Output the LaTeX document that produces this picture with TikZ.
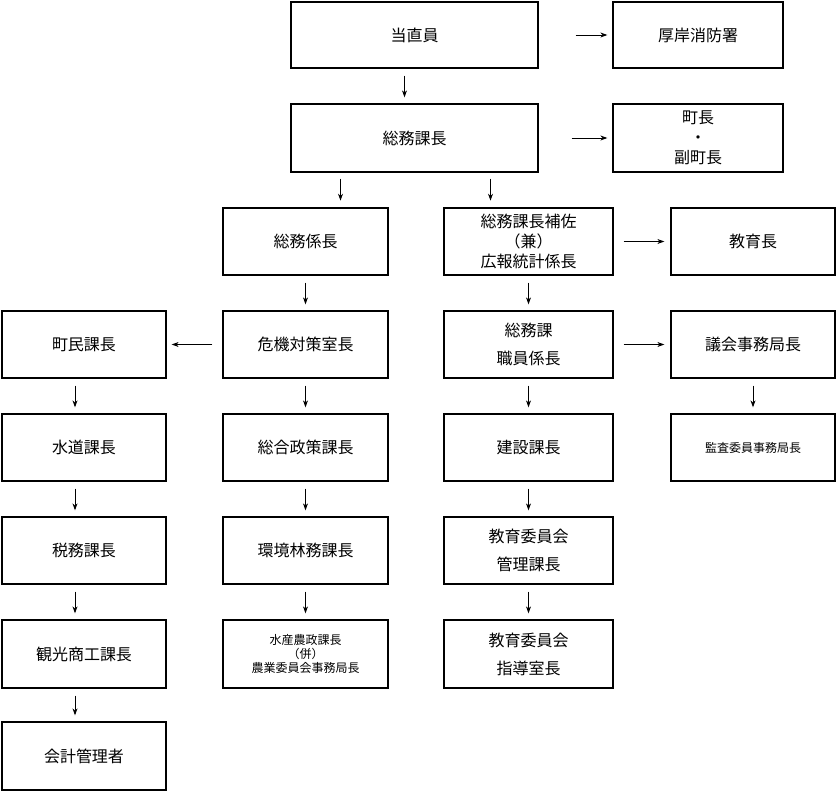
\documentclass[tikz,border=0pt]{standalone}
\usepackage{fontspec}
\setmainfont{Noto Sans CJK JP}
\usetikzlibrary{arrows.meta}
\begin{document}
\begin{tikzpicture}[x=1pt,y=-1pt,
  box/.style={draw,line width=1.3pt,inner sep=0pt,align=center,font=\fontsize{16}{20}\selectfont},
  sbox/.style={box,font=\fontsize{12}{14}\selectfont},
  arr/.style={-{Stealth[length=7pt,width=5pt]},line width=0.9pt}]
\useasboundingbox (0,0) rectangle (836,792);
\newcommand{\bx}[7][box]{\node[#1,minimum width=#5-#3,minimum height=#6-#4] (#2) at ({(#3+#5)/2},{(#4+#6)/2}) {#7};}
\bx{toc}{291}{2}{538}{68}{当直員}
\bx{fire}{613}{2}{783}{68}{厚岸消防署}
\bx{smk}{291}{104}{538}{172}{総務課長}
\bx{mayor}{613}{104}{783}{172}{町長\\・\\副町長}
\bx{smkk}{223}{208}{388}{275}{総務係長}
\bx{hosa}{444}{208}{613}{275}{総務課長補佐\\（兼）\\広報統計係長}
\bx{edu}{671}{208}{835}{275}{教育長}
\bx{chomin}{2}{311}{166}{378}{町民課長}
\bx{kiki}{223}{311}{388}{378}{危機対策室長}
\bx{shokuin}{444}{311}{613}{378}{総務課\\[8pt]職員係長}
\bx{gikai}{671}{311}{835}{378}{議会事務局長}
\bx{suido}{2}{414}{166}{481}{水道課長}
\bx{sogo}{223}{414}{388}{481}{総合政策課長}
\bx{kensetsu}{444}{414}{613}{481}{建設課長}
\bx[sbox]{kansa}{671}{414}{835}{481}{監査委員事務局長}
\bx{zeimu}{2}{517}{166}{584}{税務課長}
\bx{kankyo}{223}{517}{388}{584}{環境林務課長}
\bx{kanri}{444}{517}{613}{584}{教育委員会\\[8pt]管理課長}
\bx{kanko}{2}{620}{166}{688}{観光商工課長}
\bx[sbox]{suisan}{223}{620}{388}{688}{水産農政課長\\（併）\\農業委員会事務局長}
\bx{shido}{444}{620}{613}{688}{教育委員会\\[8pt]指導室長}
\bx{kaikei}{2}{722}{166}{790}{会計管理者}
% vertical arrows
\draw[arr,shorten <=7pt,shorten >=6pt] ([xshift=-10pt]toc.south) -- ([xshift=-10pt]smk.north);
\draw[arr] ([xshift=-74pt]smk.south) ++(0,6) -- ++(0,22);
\draw[arr] ([xshift=76pt]smk.south) ++(0,6) -- ++(0,22);
\foreach \a/\b in {chomin/suido,suido/zeimu,zeimu/kanko,kanko/kaikei}
  \draw[arr,shorten <=7pt,shorten >=6pt] ([xshift=-9pt]\a.south) -- ([xshift=-9pt]\b.north);
\foreach \a/\b in {smkk/kiki,kiki/sogo,sogo/kankyo,kankyo/suisan,hosa/shokuin,shokuin/kensetsu,kensetsu/kanri,kanri/shido,gikai/kansa}
  \draw[arr,shorten <=7pt,shorten >=6pt] ([xshift=-0pt]\a.south) -- ([xshift=0pt]\b.north);
% horizontal arrows
\draw[arr,shorten <=37pt,shorten >=5pt] (toc.east) -- (fire.west);
\draw[arr,shorten <=33pt,shorten >=5pt] (smk.east) -- (mayor.west);
\draw[arr,shorten <=10pt,shorten >=6pt] (hosa.east) -- (edu.west);
\draw[arr,shorten <=10pt,shorten >=6pt] (shokuin.east) -- (gikai.west);
\draw[arr,shorten <=10pt,shorten >=5pt] (kiki.west) -- (chomin.east);
\end{tikzpicture}
\end{document}
